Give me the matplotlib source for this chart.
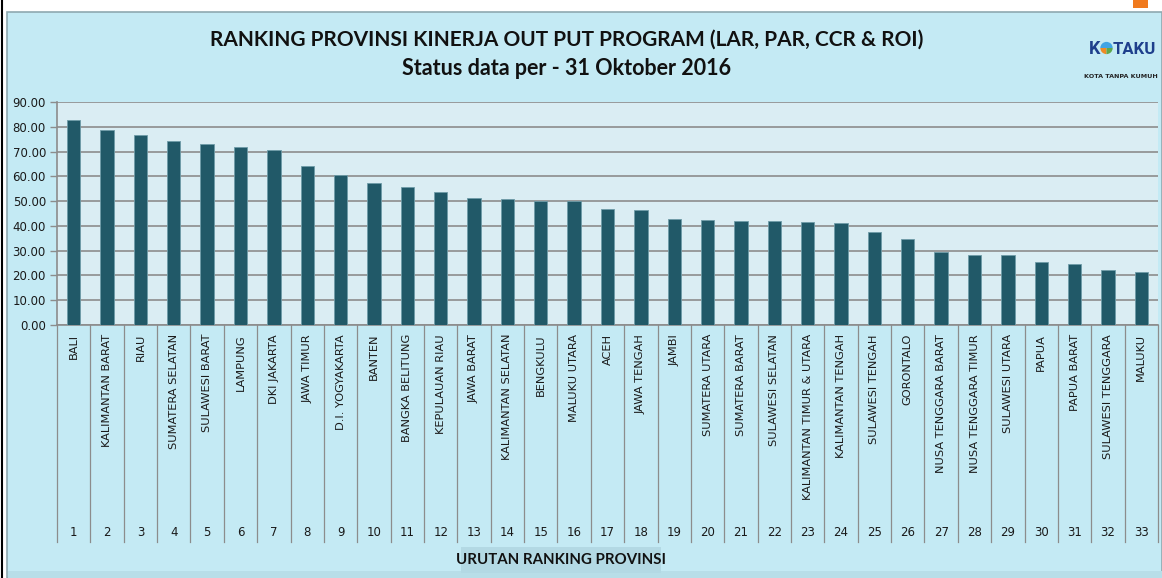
import matplotlib
matplotlib.use("Agg")
import matplotlib.pyplot as plt
import matplotlib.transforms as mtransforms
from matplotlib.patches import Rectangle, Wedge

# ── Data ──
provinces = [
    "BALI", "KALIMANTAN BARAT", "RIAU", "SUMATERA SELATAN", "SULAWESI BARAT",
    "LAMPUNG", "DKI JAKARTA", "JAWA TIMUR", "D.I. YOGYAKARTA", "BANTEN",
    "BANGKA BELITUNG", "KEPULAUAN RIAU", "JAWA BARAT", "KALIMANTAN SELATAN",
    "BENGKULU", "MALUKU UTARA", "ACEH", "JAWA TENGAH", "JAMBI",
    "SUMATERA UTARA", "SUMATERA BARAT", "SULAWESI SELATAN",
    "KALIMANTAN TIMUR & UTARA", "KALIMANTAN TENGAH", "SULAWESI TENGAH",
    "GORONTALO", "NUSA TENGGARA BARAT", "NUSA TENGGARA TIMUR",
    "SULAWESI UTARA", "PAPUA", "PAPUA BARAT", "SULAWESI TENGGARA", "MALUKU",
]
scores = [
    82.9, 78.9, 76.8, 74.2, 73.0, 71.7, 70.7, 64.1, 60.7, 57.4,
    55.8, 53.6, 51.4, 50.9, 50.1, 50.1, 46.7, 46.3, 42.6, 42.5,
    42.0, 42.0, 41.6, 41.2, 37.7, 34.7, 29.6, 28.1, 28.1, 25.5,
    24.6, 22.1, 21.2,
]
ranks = list(range(1, len(provinces) + 1))
yticks = [0, 10, 20, 30, 40, 50, 60, 70, 80, 90]

TITLE = "RANKING PROVINSI KINERJA OUT PUT PROGRAM (LAR, PAR, CCR & ROI)"
SUBTITLE = "Status data per - 31 Oktober 2016"
XTITLE = "URUTAN RANKING PROVINSI"

# ── Colours ──
PANEL = "#C4EAF4"
PLOT_BG = "#DAEDF3"
BAR = "#215968"
GRID = "#8C8C8C"

W, H = 1162, 578
fig = plt.figure(figsize=(W / 100, H / 100), dpi=100)
fig.patch.set_facecolor("white")

# chart panel (with a slightly darker bottom band)
fig.patches.append(Rectangle((7 / W, 0), 1 - 7 / W, 1 - 12 / H, transform=fig.transFigure,
                             facecolor=PANEL, edgecolor="#8FA9B0", linewidth=1.2, zorder=-10))
fig.patches.append(Rectangle((8 / W, 0), 1 - 8 / W, 7 / H, transform=fig.transFigure,
                             facecolor="#B8DEE8", edgecolor="none", zorder=-9))
# screenshot artefacts: left black line and orange marker
fig.lines.append(plt.Line2D([2 / W, 2 / W], [0, 1], transform=fig.transFigure,
                            color="black", linewidth=1.5, zorder=-5))
fig.patches.append(Rectangle((1133 / W, 1 - 8 / H), 15 / W, 8 / H, transform=fig.transFigure,
                             facecolor="#F07A1E", edgecolor="none", zorder=-5))

# plot area
left, right, top, bottom = 57, 1158, 102, 325
ax = fig.add_axes([left / W, 1 - bottom / H, (right - left) / W, (bottom - top) / H])
ax.set_zorder(5)
ax.set_facecolor(PLOT_BG)

ax.bar(ranks, scores, width=0.4, color=BAR, edgecolor="#6E9CA8", linewidth=0.6, zorder=3)

ax.set_xlim(0.5, len(ranks) + 0.5)
ax.set_ylim(0, 90)
ax.set_yticks(yticks)
ax.set_yticklabels([f"{v:.2f}" for v in yticks], fontsize=8.5, color="#1A1A1A",
                   family="DejaVu Sans")
ax.tick_params(axis="y", length=5, color=GRID, width=1, pad=3)
ax.set_xticks([])
ax.grid(axis="y", color=GRID, linewidth=1.2, zorder=1)

for s in ["top", "right"]:
    ax.spines[s].set_visible(False)
ax.spines["left"].set_color(GRID)
ax.spines["bottom"].set_color(GRID)
ax.spines["left"].set_linewidth(1.2)
ax.spines["bottom"].set_linewidth(1.2)

# category label area below the axis
trans = mtransforms.blended_transform_factory(ax.transData, ax.transAxes)
sep_bottom = -(542 - bottom) / (bottom - top)
for k in range(len(ranks) + 1):
    ax.plot([k + 0.5, k + 0.5], [0, sep_bottom], transform=trans, color=GRID,
            linewidth=0.9, clip_on=False)

label_top = -(334 - bottom) / (bottom - top)
num_y = -(532 - bottom) / (bottom - top)
for r, name in zip(ranks, provinces):
    ax.text(r, label_top, name, transform=trans, rotation=90, ha="center", va="top",
            fontsize=8.2, color="#1A1A1A", family="DejaVu Sans", clip_on=False)
    ax.text(r, num_y, str(r), transform=trans, ha="center", va="center",
            fontsize=8.5, color="#1A1A1A", family="DejaVu Sans", clip_on=False)

# axis title box
fig.patches.append(Rectangle((461 / W, 1 - 573 / H), 200 / W, 26 / H, transform=fig.transFigure,
                             facecolor="#B3D9E4", edgecolor="none", zorder=1))
fig.text(561 / W, 1 - 560 / H, XTITLE, ha="center", va="center", fontsize=10.8,
         fontweight="bold", family="Lato", color="#111111", zorder=2)

# titles
fig.text(567 / W, 1 - 40 / H, TITLE, ha="center", va="center", fontsize=15,
         fontweight="bold", family="Lato", color="#111111")
fig.text(567 / W, 1 - 69 / H, SUBTITLE, ha="center", va="center", fontsize=15.5,
         fontweight="bold", family="Lato", color="#111111")

# logo: K (circle) TAKU
fig.text(1100 / W, 1 - 49 / H, "K", ha="right", va="center", fontsize=13,
         fontweight="bold", family="Roboto", color="#1E3F8C")
fig.text(1113 / W, 1 - 49 / H, "TAKU", ha="left", va="center", fontsize=12,
         fontweight="bold", family="Roboto", color="#1E3F8C")
lax = fig.add_axes([1100 / W, 1 - 58 / H, 13 / W, 20 / H])
lax.set_xlim(-1, 1)
lax.set_ylim(-1.55, 1.55)
lax.axis("off")
lax.add_patch(Wedge((0, 0), 0.95, 0, 180, facecolor="#3FA4E4"))
lax.add_patch(Wedge((0, 0), 0.95, 180, 270, facecolor="#EE8A24"))
lax.add_patch(Wedge((0, 0), 0.95, 270, 360, facecolor="#5FA84A"))
fig.text(1121 / W, 1 - 76 / H, "KOTA TANPA KUMUH", ha="center", va="center", fontsize=4.6,
         fontweight="bold", family="DejaVu Sans", color="#222222")

fig.savefig("out.png", dpi=100, facecolor=fig.get_facecolor())
